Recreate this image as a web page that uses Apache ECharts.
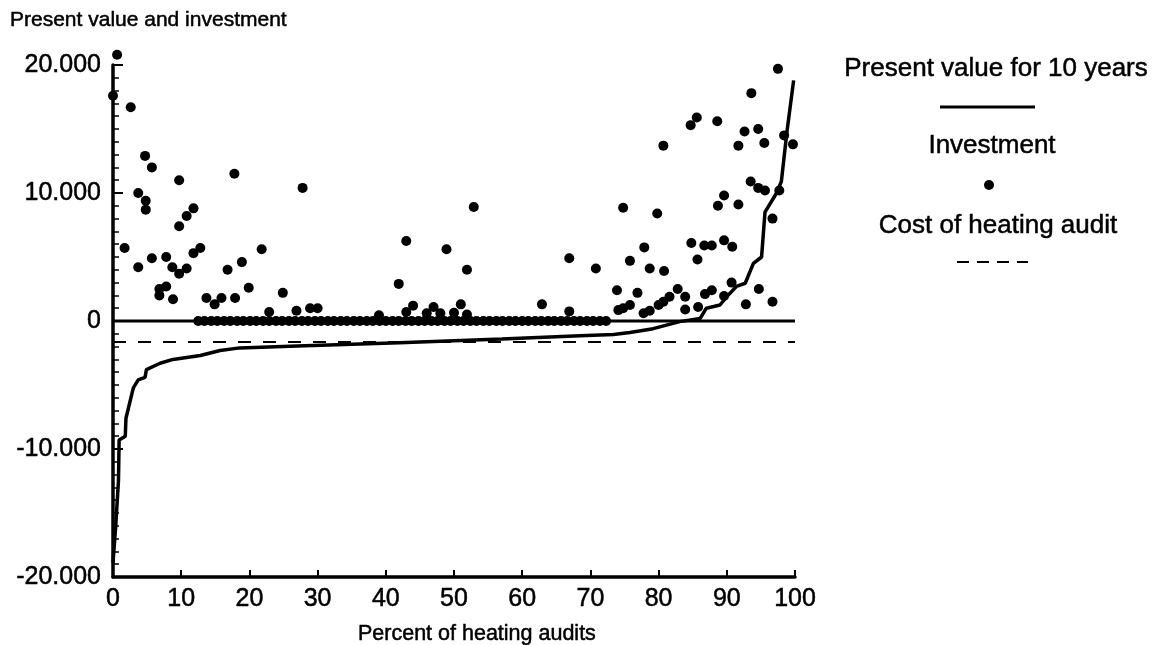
<!DOCTYPE html>
<html>
<head>
<meta charset="utf-8">
<script src="https://cdn.jsdelivr.net/npm/echarts@6/dist/echarts.min.js"></script>
<style>
html,body{margin:0;padding:0;background:#fff;}
#main{width:1155px;height:645px;}
</style>
</head>
<body>
<div id="main"></div>
<script>
//present value for 10 years (percent, value)
var presentValue = [
	[0, -18900], [0.4, -16000], [0.8, -12500], [0.9, -9300], [1.8, -9000], [1.9, -7600],
	[2.9, -5400], [3.0, -5200], [3.7, -4600], [4.7, -4400], [4.9, -3800], [6.9, -3300],
	[8.8, -3000], [12.8, -2700], [15.7, -2300], [18.6, -2100], [27, -1950], [42, -1700],
	[57, -1400], [68.5, -1150], [73.4, -1050], [75.8, -900], [79.2, -600], [83.1, -50],
	[86.1, 200], [87.0, 1000], [89.0, 1250], [90.0, 1900], [91.4, 2700], [92.7, 2950],
	[93.9, 4500], [95.1, 5000], [95.6, 8500], [97.3, 10000], [98.0, 10900], [98.8, 14700],
	[99.8, 18800]
];
//investment, non zero
var investment = [
	[0, 17600], [0.6, 20800], [1.7, 5700], [2.6, 16700], [3.7, 10000], [3.7, 4200],
	[4.7, 12900], [4.8, 9400], [4.8, 8700], [5.7, 12000], [5.7, 4900], [6.8, 2500],
	[6.8, 2000], [7.8, 2700], [7.8, 5000], [8.7, 4200], [8.8, 1700], [9.7, 11000],
	[9.7, 7400], [9.7, 3700], [10.8, 8200], [10.8, 4100], [11.8, 8800], [11.8, 5300],
	[12.8, 5700], [13.7, 1800], [14.9, 1300], [15.9, 1800], [16.8, 4000], [17.8, 11500],
	[17.9, 1800], [18.9, 4600], [19.9, 2600], [21.8, 5600], [22.9, 700], [24.9, 2200],
	[26.9, 800], [27.8, 10400], [28.9, 1000], [30.0, 1000], [39.0, 450], [41.9, 2900],
	[43.0, 6250], [43.0, 700], [44.0, 1200], [46.0, 600], [47.0, 1100], [48.0, 600],
	[48.9, 5600], [50.0, 650], [51.0, 1300], [51.9, 4000], [51.9, 500], [52.9, 8900],
	[62.9, 1300], [66.9, 4900], [66.9, 750], [70.8, 4100], [73.9, 2400], [74.1, 850],
	[74.8, 8850], [74.8, 1000], [75.8, 4700], [75.8, 1250], [76.9, 2200], [77.8, 600],
	[77.9, 5750], [78.7, 4100], [78.7, 800], [79.8, 8400], [80.0, 1250], [80.7, 13700],
	[80.7, 1500], [80.8, 3900], [81.6, 1900], [82.8, 2500], [83.9, 1900], [83.9, 900],
	[84.7, 15300], [84.8, 6100], [85.6, 15900], [85.7, 4800], [85.8, 1100], [86.7, 5900],
	[86.8, 2100], [87.8, 5900], [87.8, 2400], [88.6, 15600], [88.7, 9000], [89.6, 9800],
	[89.6, 6300], [89.6, 1950], [90.7, 3000], [90.8, 5800], [91.7, 13700], [91.7, 9100],
	[92.6, 14800], [92.8, 1300], [93.5, 10900], [93.6, 17800], [94.6, 15000], [94.6, 10400],
	[94.7, 2500], [95.5, 13900], [95.6, 10200], [96.7, 8000], [96.7, 1500], [97.5, 19700],
	[97.7, 10200], [98.4, 14500], [99.7, 13800]
];
//investment = 0
var investmentZero = [
	[12.5, 0], [13.4, 0], [14.4, 0], [15.3, 0], [16.3, 0], [17.2, 0], [18.2, 0], [19.1, 0],
	[20.1, 0], [21.0, 0], [22.0, 0], [22.9, 0], [23.9, 0], [24.8, 0], [25.8, 0], [26.7, 0],
	[27.7, 0], [28.6, 0], [29.6, 0], [30.5, 0], [31.5, 0], [32.4, 0], [33.4, 0], [34.3, 0],
	[35.3, 0], [36.2, 0], [37.2, 0], [38.1, 0], [39.1, 0], [40.0, 0], [41.0, 0], [41.9, 0],
	[42.9, 0], [43.8, 0], [44.8, 0], [45.7, 0], [46.7, 0], [47.6, 0], [48.6, 0], [49.5, 0],
	[50.5, 0], [51.4, 0], [52.4, 0], [53.3, 0], [54.3, 0], [55.2, 0], [56.2, 0], [57.1, 0],
	[58.1, 0], [59.0, 0], [60.0, 0], [60.9, 0], [61.9, 0], [62.8, 0], [63.8, 0], [64.7, 0],
	[65.7, 0], [66.6, 0], [67.6, 0], [68.5, 0], [69.5, 0], [70.4, 0], [71.4, 0], [72.3, 0]
];
var zeroLine = [[0, 0], [100, 0]];
var auditCost = [[0, -1650], [100, -1650]];

var xTicks = [0, 10, 20, 30, 40, 50, 60, 70, 80, 90, 100];
var yTicks = [-20000, -10000, 0, 10000, 20000];

var font = 'Liberation Sans';

var myChart = echarts.init(document.getElementById('main'));

//y 标签 20.000 格式
function yLabel(v) {
	if (v == 0) return '0';
	return (v / 1000) + '.000';
}

//文字样式(扫描件字体偏粗)
function txt(text, x, y, size, align) {
	return {
		type: 'text', x: x, y: y,
		style: {
			text: text, fontFamily: font, fontSize: size, fill: '#000',
			stroke: '#000', lineWidth: 0.5,
			align: align || 'left', verticalAlign: 'middle'
		}
	};
}

var option = {
	backgroundColor: '#fff',
	animation: false,
	grid: {left: 113, right: 360, top: 65, bottom: 68, containLabel: false, outerBoundsMode: 'none'},
	xAxis: {
		type: 'value',
		min: xTicks[0],
		max: xTicks[xTicks.length - 1],
		interval: 10,
		splitLine: {show: false},
		axisLine: {onZero: false, lineStyle: {color: '#000', width: 3.5}},
		axisTick: {inside: true, length: 7, lineStyle: {color: '#000', width: 2}},
		axisLabel: {color: '#000', fontFamily: font, fontSize: 25, margin: 10, textBorderColor: '#000', textBorderWidth: 0.5}
	},
	yAxis: [
		{
			type: 'value',
			min: yTicks[0],
			max: yTicks[yTicks.length - 1],
			interval: 10000,
			splitLine: {show: false},
			axisLine: {onZero: false, lineStyle: {color: '#000', width: 3.5}},
			axisTick: {inside: true, length: 10, lineStyle: {color: '#000', width: 2}},
			axisLabel: {color: '#000', fontFamily: font, fontSize: 25, margin: 12, formatter: yLabel, textBorderColor: '#000', textBorderWidth: 0.5}
		},
		{
			//小刻度
			type: 'value',
			position: 'left',
			min: yTicks[0],
			max: yTicks[yTicks.length - 1],
			interval: 1000,
			splitLine: {show: false},
			axisLine: {show: false},
			axisTick: {inside: true, length: 6, lineStyle: {color: '#000', width: 1.5}},
			axisLabel: {show: false}
		}
	],
	series: [
		{
			name: 'zero',
			type: 'line',
			data: zeroLine,
			symbol: 'none',
			lineStyle: {color: '#000', width: 3},
			z: 2
		},
		{
			name: 'Cost of heating audit',
			type: 'line',
			data: auditCost,
			symbol: 'none',
			lineStyle: {color: '#000', width: 2, type: [13, 12]},
			z: 2
		},
		{
			name: 'Present value for 10 years',
			type: 'line',
			data: presentValue,
			symbol: 'none',
			clip: false,
			lineStyle: {color: '#000', width: 3.5},
			z: 3
		},
		{
			name: 'Investment',
			type: 'scatter',
			data: investment.concat(investmentZero),
			symbol: 'circle',
			symbolSize: 10,
			clip: false,
			itemStyle: {color: '#000', opacity: 1},
			z: 4
		}
	],
	graphic: [
		//标题
		txt('Present value and investment', 10, 20, 21),
		txt('Percent of heating audits', 358, 634, 21.5),
		//图例
		txt('Present value for 10 years', 996, 69, 26, 'center'),
		{type: 'line', shape: {x1: 940, y1: 107, x2: 1035, y2: 107}, style: {stroke: '#000', lineWidth: 3}},
		txt('Investment', 992, 146, 26, 'center'),
		{type: 'circle', shape: {cx: 989, cy: 185, r: 5}, style: {fill: '#000'}},
		txt('Cost of heating audit', 998, 226, 26, 'center'),
		{type: 'line', shape: {x1: 957, y1: 262, x2: 1028, y2: 262}, style: {stroke: '#000', lineWidth: 2, lineDash: [12, 8]}}
	]
};
myChart.setOption(option);
</script>
</body>
</html>
